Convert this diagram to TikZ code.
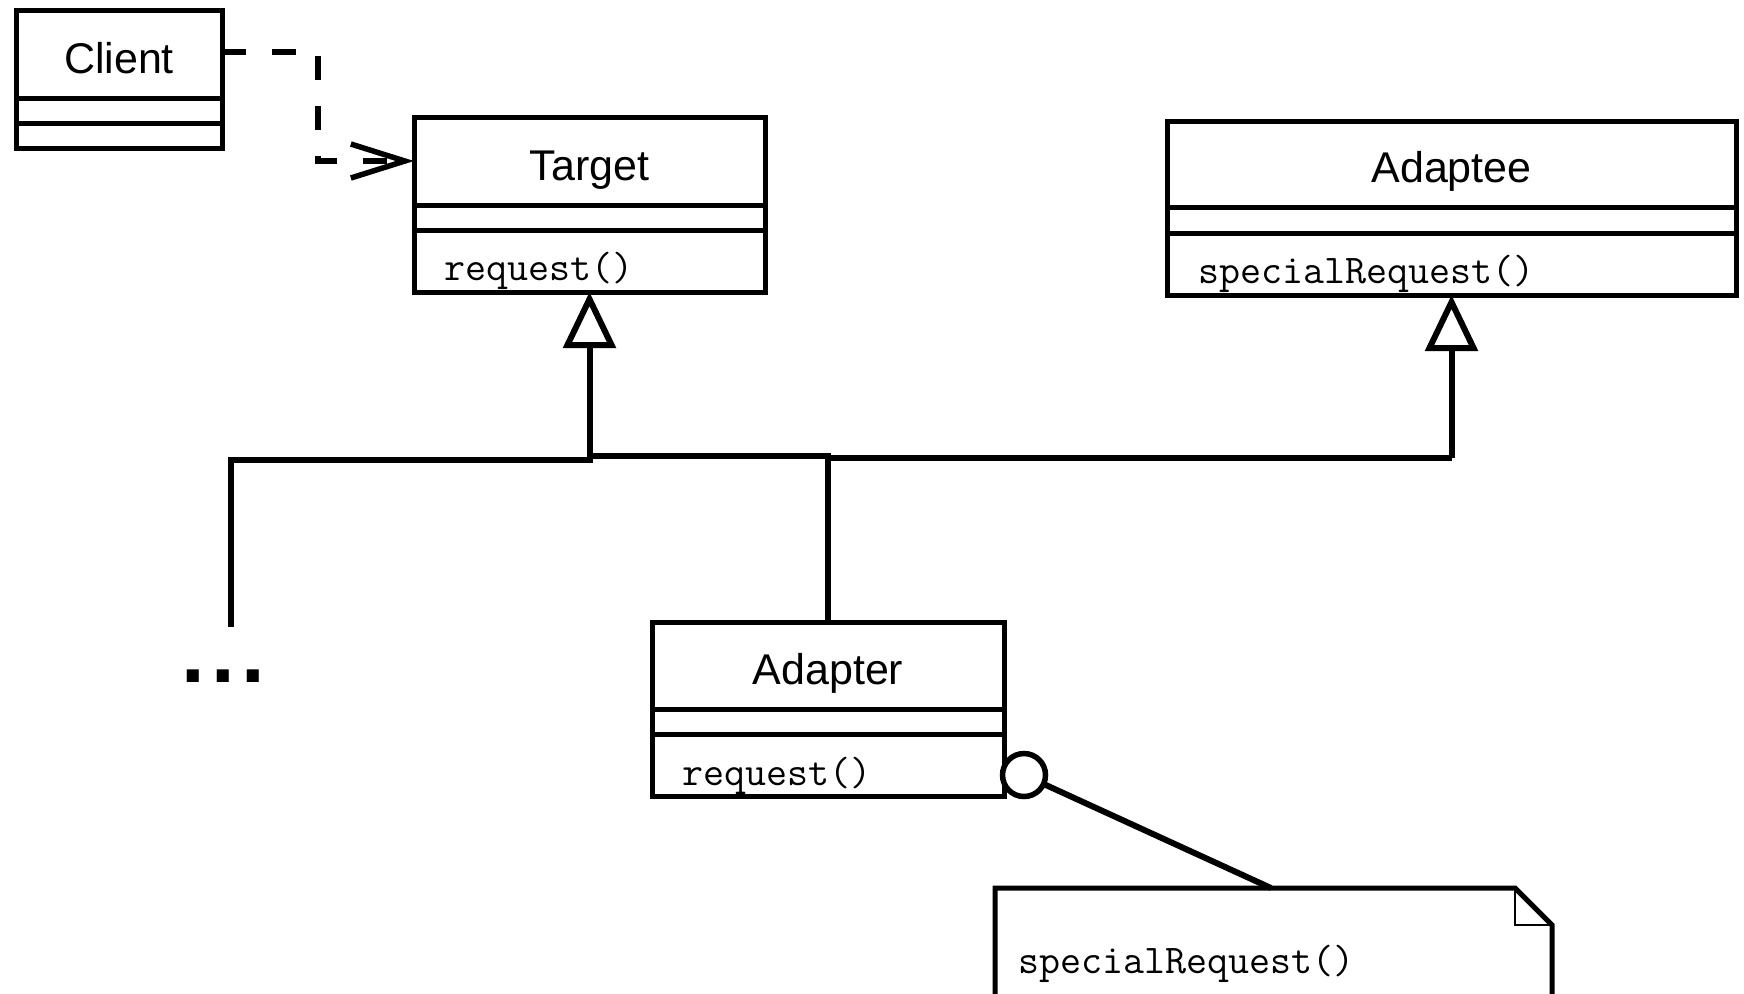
\documentclass[tikz,border=0pt]{standalone}
\usepackage{fontspec}
\usetikzlibrary{arrows.meta,calc}
\newfontfamily\umlsans{Liberation Sans}
\newfontfamily\umlmono{Latin Modern Mono}

\begin{document}
\begin{tikzpicture}[x=0.5pt,y=-0.5pt,
  every node/.style={inner sep=0pt, outer sep=0pt},
  umlline/.style={line width=2.5pt},
  linkline/.style={line width=3pt},
  classbox/.style={draw, line width=2.5pt, rectangle, anchor=north west, fill=white},
  classname/.style={font=\umlsans\fontsize{21.5pt}{24pt}\selectfont, anchor=base},
  opname/.style={font=\umlmono\fontsize{20.4pt}{23pt}\selectfont, anchor=base west},
  generalization/.style={linkline, -{Triangle[open, length=28pt, width=26pt]}},
  dependency/.style={line width=2.75pt, dash pattern=on 12pt off 13pt,
    -{Straight Barb[length=27pt, width=17pt]}},
]
% page
\useasboundingbox (0,0) rectangle (1744,993);
\fill[white] (0,0) rectangle (1744,993);
\clip (0,0) rectangle (1744,993);

% ---- Client ----
\node[classbox, minimum width=103pt, minimum height=69pt] (client) at (16,10) {};
\draw[umlline] ($(client.north west)+(0,88)$) -- ($(client.north east)+(0,88)$);
\draw[umlline] ($(client.north west)+(0,113)$) -- ($(client.north east)+(0,113)$);
\node[classname] (client-name) at ($(client.north)+(0,63)$) {Client};

% ---- Target ----
\node[classbox, minimum width=175.5pt, minimum height=87.5pt] (target) at (414,117) {};
\draw[umlline] ($(target.north west)+(0,88)$) -- ($(target.north east)+(0,88)$);
\draw[umlline] ($(target.north west)+(0,113)$) -- ($(target.north east)+(0,113)$);
\node[classname] (target-name) at ($(target.north)+(0,63)$) {Target};
\node[opname] (target-op) at ($(target.south west)+(30,-12)$) {request()};

% ---- Adaptee ----
\node[classbox, minimum width=284.5pt, minimum height=87pt] (adaptee) at (1167,121) {};
\draw[umlline] ($(adaptee.north west)+(0,86)$) -- ($(adaptee.north east)+(0,86)$);
\draw[umlline] ($(adaptee.north west)+(0,112)$) -- ($(adaptee.north east)+(0,112)$);
\node[classname] (adaptee-name) at ($(adaptee.north)+(0,61)$) {Adaptee};
\node[opname] (adaptee-op) at ($(adaptee.south west)+(31,-12)$) {specialRequest()};

% ---- Adapter ----
\node[classbox, minimum width=176pt, minimum height=87pt] (adapter) at (652,622) {};
\draw[umlline] ($(adapter.north west)+(0,87)$) -- ($(adapter.north east)+(0,87)$);
\draw[umlline] ($(adapter.north west)+(0,112)$) -- ($(adapter.north east)+(0,112)$);
\node[classname] (adapter-name) at ($(adapter.north)+(0,62)$) {Adapter};
\node[opname] (adapter-op) at ($(adapter.south west)+(30,-11)$) {request()};

% ---- further subclasses ----
\node[font=\umlsans\bfseries\fontsize{42.5pt}{44pt}\selectfont] (more) at (223,676)
  {.\kern3.2pt.\kern3.2pt.};

% ---- dependency Client -> Target ----
\coordinate (dep-start) at ($(client.north east)+(0,42)$);
\coordinate (dep-end) at ($(target.north west)+(0,44)$);
\draw[dependency] (dep-start) -- ++(96,0) |- (dep-end);

% ---- generalization tree ----
\coordinate (bus-t) at ($(target.south)+(0,168)$);
\coordinate (bus-a) at ($(adaptee.south)+(0,163)$);
\coordinate (more-end) at (231,627);
\draw[generalization] (bus-t) -- (target.south);
\draw[generalization] (bus-a) -- (adaptee.south);
\draw[linkline] (more-end) |- (bus-t) -- ++(0,-4) -| (adapter.north);
\draw[linkline] (adapter.north |- bus-a) -- (bus-a);

% ---- note attached to request() ----
\node[anchor=north west, minimum width=278.5pt, minimum height=61pt] (note) at (995,888) {};
\coordinate (fold-a) at ($(note.north east)+(-37,0)$);
\coordinate (fold-b) at ($(note.north east)+(0,37)$);
\coordinate (fold-c) at ($(note.north east)+(-37,37)$);
\draw[umlline] (note.south west) -- (note.north west) -- (fold-a) -- (fold-b) -- (note.south east);
\draw[line width=1pt] (fold-a) -- (fold-c) -- (fold-b);
\node[opname] (note-text) at ($(note.north west)+(23,85)$) {specialRequest()};

\node[circle, draw, line width=2.75pt, fill=white, minimum size=21.5pt] (port)
  at ($(adapter.south east)+(20,-21)$) {};
\coordinate (note-attach) at ($(note.north west)+(276,0)$);
\draw[linkline] (port) -- (note-attach);
\end{tikzpicture}
\end{document}
